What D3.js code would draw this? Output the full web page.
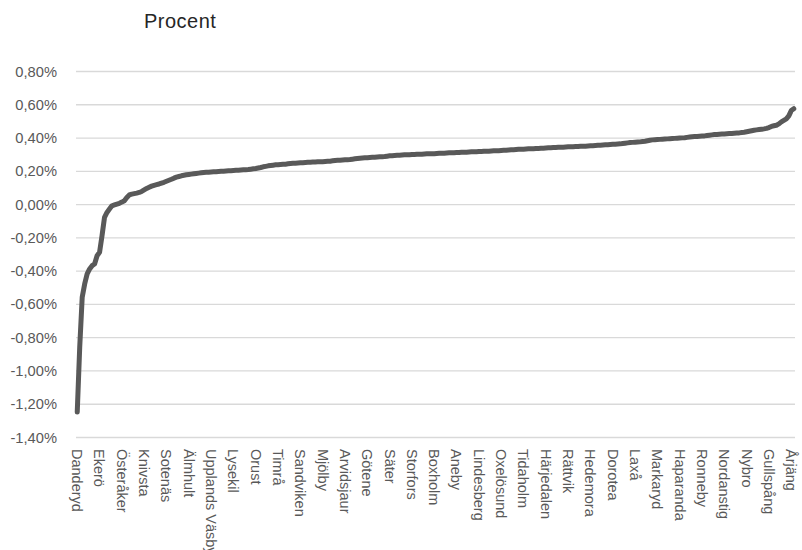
<!DOCTYPE html>
<html>
<head>
<meta charset="utf-8">
<script src="https://cdn.jsdelivr.net/npm/d3@7"></script>
<style>
  html, body { margin: 0; padding: 0; background: #ffffff; }
  svg { display: block; }
  text { font-family: "Liberation Sans", Arial, sans-serif; }
</style>
</head>
<body>
<svg id="chart" width="802" height="550"></svg>
<script>
// ---- Data (values in percent, sorted ascending by municipality) ----
const values = [
  -1.25, -0.86, -0.56, -0.48, -0.42, -0.39, -0.37, -0.36, -0.31, -0.29,
  -0.19, -0.08, -0.05, -0.03, -0.01, -0.005, 0.000, 0.005, 0.012, 0.020,
  0.040, 0.055, 0.060, 0.063, 0.066, 0.070, 0.076, 0.085, 0.094, 0.101,
  0.108, 0.113, 0.117, 0.121, 0.126, 0.131, 0.137, 0.143, 0.149, 0.156,
  0.162, 0.166, 0.170, 0.173, 0.176, 0.178, 0.180, 0.182, 0.184, 0.186,
  0.188, 0.190, 0.191, 0.192, 0.193, 0.194, 0.195, 0.196, 0.197, 0.198,
  0.199, 0.200, 0.201, 0.202, 0.203, 0.204, 0.205, 0.206, 0.207, 0.208,
  0.210, 0.212, 0.214, 0.217, 0.220, 0.224, 0.227, 0.230, 0.232, 0.234,
  0.236, 0.237, 0.238, 0.239, 0.240, 0.242, 0.244, 0.245, 0.246, 0.247,
  0.248, 0.249, 0.250, 0.251, 0.252, 0.253, 0.253, 0.254, 0.254, 0.255,
  0.256, 0.257, 0.258, 0.260, 0.262, 0.263, 0.264, 0.265, 0.266, 0.267,
  0.268, 0.270, 0.272, 0.274, 0.276, 0.277, 0.278, 0.279, 0.280, 0.281,
  0.282, 0.283, 0.284, 0.285, 0.286, 0.288, 0.290, 0.291, 0.292, 0.293,
  0.294, 0.295, 0.296, 0.296, 0.297, 0.298, 0.298, 0.299, 0.300, 0.300,
  0.301, 0.302, 0.302, 0.303, 0.303, 0.304, 0.305, 0.305, 0.306, 0.307,
  0.308, 0.308, 0.309, 0.310, 0.310, 0.311, 0.312, 0.312, 0.313, 0.314,
  0.314, 0.315, 0.316, 0.316, 0.317, 0.318, 0.318, 0.319, 0.320, 0.320,
  0.321, 0.322, 0.323, 0.324, 0.325, 0.326, 0.327, 0.328, 0.329, 0.330,
  0.330, 0.331, 0.332, 0.332, 0.333, 0.334, 0.334, 0.335, 0.336, 0.337,
  0.338, 0.339, 0.340, 0.340, 0.341, 0.342, 0.342, 0.343, 0.344, 0.344,
  0.345, 0.346, 0.346, 0.347, 0.348, 0.348, 0.349, 0.350, 0.351, 0.352,
  0.353, 0.354, 0.355, 0.356, 0.357, 0.358, 0.359, 0.360, 0.361, 0.362,
  0.364, 0.366, 0.368, 0.370, 0.371, 0.372, 0.373, 0.374, 0.376, 0.378,
  0.381, 0.384, 0.386, 0.387, 0.388, 0.389, 0.390, 0.391, 0.392, 0.393,
  0.394, 0.395, 0.396, 0.397, 0.398, 0.399, 0.401, 0.403, 0.405, 0.406,
  0.407, 0.408, 0.409, 0.410, 0.412, 0.414, 0.416, 0.418, 0.419, 0.420,
  0.421, 0.422, 0.423, 0.424, 0.425, 0.426, 0.427, 0.428, 0.430, 0.432,
  0.435, 0.438, 0.441, 0.444, 0.446, 0.448, 0.450, 0.452, 0.455, 0.460,
  0.467, 0.471, 0.474, 0.482, 0.494, 0.503, 0.512, 0.530, 0.562, 0.573
];

// Category labels shown on the axis (every 9th municipality)
const tickLabels = [
  "Danderyd", "Ekerö", "Österåker", "Knivsta", "Sotenäs", "Älmhult",
  "Upplands Väsby", "Lysekil", "Orust", "Timrå", "Sandviken", "Mjölby",
  "Arvidsjaur", "Götene", "Säter", "Storfors", "Boxholm", "Aneby",
  "Lindesberg", "Oxelösund", "Tidaholm", "Härjedalen", "Rättvik", "Hedemora",
  "Dorotea", "Laxå", "Markaryd", "Haparanda", "Ronneby", "Nordanstig",
  "Nybro", "Gullspång", "Årjäng"
];
const labelStep = 9;

const yTicks = [-1.4, -1.2, -1.0, -0.8, -0.6, -0.4, -0.2, 0.0, 0.2, 0.4, 0.6, 0.8];
const title = "Procent";

// ---- Layout ----
const plot = { left: 76, right: 795, top: 71, bottom: 437 };
const svg = d3.select("#chart");

const categories = d3.range(values.length);
const x = d3.scaleBand().domain(categories).range([plot.left, plot.right]).paddingInner(0).paddingOuter(0);
const y = d3.scaleLinear().domain([-1.4, 0.8]).range([plot.bottom, plot.top]);

const sv = d3.formatLocale({ decimal: ",", thousands: " ", grouping: [3], currency: ["", " kr"], minus: "-" });
const fmt = v => sv.format(".2f")(v) + "%";

// Y axis + gridlines
const yAxis = d3.axisLeft(y)
  .tickValues(yTicks)
  .tickSizeInner(-(plot.right - plot.left))
  .tickSizeOuter(0)
  .tickPadding(19)
  .tickFormat(fmt);

const gy = svg.append("g")
  .attr("transform", `translate(${plot.left},0)`)
  .call(yAxis);
gy.select(".domain").remove();
gy.selectAll(".tick line").attr("stroke", "#d9d9d9").attr("stroke-width", 1.3);
gy.selectAll(".tick text")
  .attr("fill", "#595959")
  .style("font-size", "14.7px")
  .attr("dy", "0.34em");

// X axis (category labels)
const tickIdx = tickLabels.map((_, i) => i * labelStep);
const xAxis = d3.axisBottom(x)
  .tickValues(tickIdx)
  .tickSize(0)
  .tickFormat(d => tickLabels[d / labelStep]);

const gx = svg.append("g")
  .attr("transform", `translate(0,${plot.bottom})`)
  .call(xAxis);
gx.select(".domain").remove();
gx.selectAll(".tick text")
  .attr("fill", "#595959")
  .style("font-size", "14.5px")
  .attr("text-anchor", "start")
  .attr("transform", "translate(0,12) rotate(90)")
  .attr("x", 0)
  .attr("y", 0)
  .attr("dy", "0.35em");

// Line
const line = d3.line()
  .x((d, i) => x(i) + x.bandwidth() / 2)
  .y(d => y(d));

svg.append("path")
  .datum(values)
  .attr("d", line)
  .attr("fill", "none")
  .attr("stroke", "#595959")
  .attr("stroke-width", 5)
  .attr("stroke-linejoin", "round")
  .attr("stroke-linecap", "round");

// Title
svg.append("text")
  .attr("x", 144)
  .attr("y", 28)
  .attr("fill", "#262626")
  .style("font-size", "20px")
  .style("letter-spacing", "0.5px")
  .text(title);
</script>
</body>
</html>
